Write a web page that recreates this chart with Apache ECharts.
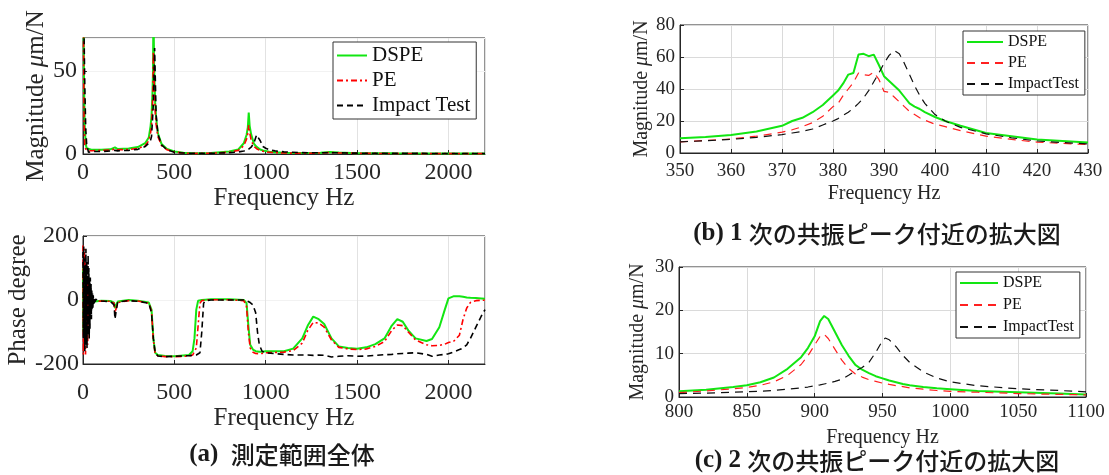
<!DOCTYPE html>
<html>
<head>
<meta charset="utf-8">
<script src="https://cdn.jsdelivr.net/npm/echarts@6/dist/echarts.min.js"></script>
<style>
  html, body { margin: 0; padding: 0; background: #fff; }
  #main { width: 1109px; height: 475px; }
</style>
</head>
<body>
<div id="main"></div>
<script>
// (a) 全体: 振幅
var magFreqA = [0, 3, 6, 10, 15, 20, 30, 50, 100, 150, 175, 180, 190, 250, 300, 340, 360, 370, 375, 380, 383, 385, 387, 389, 392, 395, 400, 410, 430, 460, 500, 550, 600, 700, 800, 850, 880, 895, 902, 907, 912, 920, 935, 950, 960, 970, 985, 1000, 1020, 1050, 1100, 1200, 1300, 1350, 1400, 1500, 1700, 2000, 2200];
var magDspeA = [90, 80, 40, 15, 6, 3.5, 2.5, 2.5, 2.6, 2.8, 4, 4.5, 3, 3.3, 4.2, 6.5, 10, 17, 23, 36, 49, 80, 75, 55, 42, 31, 22, 12.5, 6, 3, 1.5, 0.8, 0.4, 0.6, 1.5, 2.7, 6.5, 11.5, 16, 25, 17, 12, 6.3, 4.3, 3.4, 2.7, 2.1, 1.8, 1.4, 1.1, 0.8, 0.6, 0.8, 1.2, 0.9, 0.5, 0.4, 0.3, 0.3];
var magPeA = [85, 70, 20, 5, 3, 2, 2, 2, 2.2, 2.4, 3, 3.5, 2.6, 2.7, 3.4, 5, 8, 13, 17, 29, 40, 62, 55, 46, 35, 26, 18, 10.5, 5, 2.5, 1.2, 0.6, 0.3, 0.5, 1.1, 2.2, 5, 9, 12.5, 17.5, 13, 8.5, 4.6, 3.2, 2.6, 2.1, 1.7, 1.3, 1.1, 0.8, 0.6, 0.4, 0.6, 0.9, 0.7, 0.4, 0.3, 0.2, 0.2];
var magImpA = [100, 95, 70, 40, 15, 6, 1, 1.5, 1.5, 1.8, 2.2, 2.5, 1.9, 2.2, 2.8, 4.5, 6.5, 8.5, 10.5, 20, 25.5, 31, 39, 50, 64, 49, 24, 12, 5.5, 2.5, 1, 0.6, 0.4, 0.4, 0.8, 1.2, 1.8, 2.3, 2.7, 3, 3.4, 4.1, 6.5, 11.5, 12.5, 8, 4.5, 3.5, 2.6, 1.9, 1.3, 0.8, 0.7, 0.8, 0.7, 0.5, 0.4, 0.3, 0.3];

// (a) 全体: 位相 (低周波のばらつき部分)
var phNoiseFreq = [0, 2, 4, 6, 8, 10, 12, 14, 16, 18, 20, 22, 24, 26, 28, 30, 32, 34, 36, 38, 40, 42, 44, 46, 48, 50, 52, 54, 56, 58, 60, 62, 64, 66, 68];
var phNoiseDspe = [100, -100, 60, -80, 40, -50, 30, -40, 20, -30, 15, -20, 10, -15, 5, -10, 5, -8, 2, -5, 0, -5, -2, -4, -3, -5, -4, -3, -5, -4, -3, -5, -4, -5, -4];
var phNoisePe = [170, -170, 120, -150, 160, -100, 140, -170, 80, -130, 110, -90, 60, -140, 70, -50, 40, -60, 30, -40, 20, -25, 10, -15, 5, -10, 3, -6, 2, -4, 0, -3, -2, -4, -3];
var phNoiseImp = [150, -120, 170, -90, 130, -160, 100, -140, 160, -60, 120, -150, 90, -110, 140, -80, 100, -120, 60, -90, 70, -40, 50, -60, 30, -30, 20, -25, 15, -12, 8, -10, 5, -6, 2];
// (a) 全体: 位相 (70 Hz 以上)
var phFreq = [70, 100, 150, 170, 175, 180, 190, 250, 300, 360, 375, 385, 395, 410, 450, 500, 580, 600, 610, 620, 630, 640, 650, 660, 670, 700, 800, 880, 895, 905, 915, 930, 945, 955, 965, 980, 1000, 1100, 1150, 1200, 1230, 1260, 1290, 1320, 1360, 1400, 1450, 1500, 1550, 1600, 1650, 1690, 1720, 1750, 1780, 1820, 1880, 1910, 1950, 1980, 2000, 2030, 2060, 2080, 2100, 2120, 2150, 2180, 2200];
var phDspe = [-5, -2, -3, -8, -25, -30, -5, 0, -2, -8, -30, -120, -165, -172, -175, -176, -172, -160, -120, -30, -2, 0, 0, 1, 1, 2, 2, 0, -10, -80, -140, -155, -160, -162, -162, -162, -160, -160, -152, -120, -80, -52, -60, -75, -120, -145, -150, -152, -148, -138, -120, -80, -60, -68, -95, -120, -128, -122, -85, -30, 5, 12, 12, 10, 8, 7, 6, 5, 4];
var phPe = [-5, -3, -4, -10, -40, -35, -8, -2, -3, -10, -35, -125, -168, -175, -177, -177, -175, -172, -168, -150, -80, -10, -2, 0, 0, 1, 1, -2, -20, -100, -150, -163, -167, -168, -168, -167, -165, -163, -158, -135, -95, -70, -72, -85, -125, -148, -153, -155, -153, -145, -130, -95, -78, -80, -100, -125, -140, -143, -142, -138, -133, -128, -110, -60, -25, -8, -2, -1, -1];
var phImp = [-2, -3, -5, -15, -60, -40, -6, -2, -4, -10, -40, -120, -165, -175, -177, -176, -174, -173, -173, -172, -170, -165, -100, -10, -2, 0, 0, 0, -2, -5, -8, -15, -40, -100, -140, -160, -165, -170, -172, -172, -172, -173, -172, -173, -178, -176, -174, -176, -175, -173, -171, -170, -168, -167, -166, -165, -170, -176, -172, -170, -168, -162, -155, -150, -140, -120, -85, -50, -30];

// (b) 1 次ピーク付近
var freqB = [350, 355, 360, 365, 370, 372, 374, 376, 378, 380, 381, 382, 383, 384, 385, 386, 387, 388, 389, 390, 391, 392, 393, 394, 395, 396, 397, 398, 400, 402, 405, 410, 415, 420, 425, 430];
var dspeB = [9.2, 10, 11.3, 13.5, 17, 20, 22, 25.5, 30, 36, 39, 43.5, 49, 50, 61.5, 62, 60.5, 61.5, 55, 48, 45, 42, 39, 35, 31, 29, 27.5, 25.5, 22.5, 20, 17, 12.5, 10.5, 8.5, 7.5, 6.5];
var peB = [7, 7.8, 8.8, 10.5, 13, 14.5, 16.5, 19, 23, 29, 31, 36, 40, 44, 50, 49, 48.5, 50.5, 46, 38.5, 38, 35, 32, 29, 26, 24, 22, 20.5, 18, 16.5, 14, 10.5, 8.5, 6.8, 6, 5.3];
var impB = [7, 7.6, 8.5, 9.8, 11.5, 12.5, 13.5, 15, 17.5, 20, 21.5, 23.5, 25.5, 28, 31, 34.5, 39, 44.5, 50, 56, 61, 64, 62, 56, 49, 42, 36, 31, 24, 20, 16, 12, 9.5, 7.5, 6.5, 5.7];

// (c) 2 次ピーク付近
var freqC = [800, 820, 840, 850, 860, 870, 880, 890, 895, 900, 904, 907, 910, 915, 920, 925, 930, 935, 940, 945, 950, 952, 955, 960, 965, 970, 980, 990, 1000, 1020, 1050, 1080, 1100];
var dspeC = [1.3, 1.7, 2.3, 2.7, 3.4, 4.5, 6.5, 9.2, 11.3, 14, 17.5, 18.7, 18, 15, 12, 9.5, 7.4, 6.3, 5.5, 4.8, 4.3, 4.1, 3.8, 3.4, 3, 2.7, 2.3, 2, 1.8, 1.4, 1.1, 0.8, 0.6];
var peC = [1, 1.4, 1.9, 2.2, 2.7, 3.5, 5, 7.5, 9.5, 12, 14, 14.5, 13.5, 11, 8.5, 6.6, 5.3, 4.6, 4, 3.6, 3.2, 3.1, 2.9, 2.6, 2.4, 2.1, 1.8, 1.5, 1.3, 1.1, 0.8, 0.6, 0.5];
var impC = [0.8, 0.9, 1.1, 1.2, 1.35, 1.5, 1.8, 2.1, 2.3, 2.6, 2.8, 3, 3.2, 3.6, 4.1, 5, 6, 6.8, 8, 10.3, 13, 13.6, 13.2, 11.6, 9.6, 8, 5.8, 4.4, 3.5, 2.6, 1.9, 1.5, 1.2];

function pairs(xs, ys) {
    return xs.map(function (x, i) { return [x, ys[i]]; });
}

var serif = 'Liberation Serif';
var cjk = 'Noto Sans CJK JP';
var ink = '#262626';
var green = '#12e612';

function plain(v) { return String(v); }

function xAx(grid, min, max, step, fs, margin, gap, splitColor) {
    return {
        type: 'value', gridIndex: grid, min: min, max: max, interval: step,
        name: 'Frequency Hz', nameLocation: 'middle', nameGap: gap,
        nameTextStyle: { fontFamily: serif, fontSize: fs + 1, color: ink },
        axisLine: { show: true, onZero: false, lineStyle: { color: ink } },
        axisTick: { inside: true, length: 4, lineStyle: { color: ink } },
        axisLabel: { fontFamily: serif, fontSize: fs, color: ink, margin: margin,
            formatter: plain, showMaxLabel: max % step === 0 },
        splitLine: { show: true, lineStyle: { color: splitColor } }
    };
}
function yAx(grid, name, min, max, step, fs, margin, gap, splitColor) {
    var ts = { fontFamily: serif, fontSize: fs + 1, color: ink };
    return {
        type: 'value', gridIndex: grid, min: min, max: max, interval: step,
        name: name, nameLocation: 'middle', nameGap: gap, nameRotate: 90,
        nameTextStyle: { fontFamily: serif, fontSize: fs + 1, color: ink,
            rich: { n: ts, i: { fontFamily: serif, fontStyle: 'italic', fontSize: fs + 1, color: ink } } },
        axisLine: { show: true, onZero: false, lineStyle: { color: ink } },
        axisTick: { inside: true, length: 4, lineStyle: { color: ink } },
        axisLabel: { fontFamily: serif, fontSize: fs, color: ink, margin: margin,
            formatter: plain, showMaxLabel: max % step === 0 },
        splitLine: { show: true, lineStyle: { color: splitColor } }
    };
}
function line(name, idx, data, color, width, type) {
    return {
        name: name, type: 'line', xAxisIndex: idx, yAxisIndex: idx,
        data: data, symbol: 'none', clip: true, silent: true,
        lineStyle: { color: color, width: width, type: type },
        itemStyle: { color: color }
    };
}
function legendBox(names, left, top, fs, gap, w) {
    return {
        data: names, orient: 'vertical', left: left, top: top,
        formatter: function (n) { return n.split('-')[0]; },
        backgroundColor: '#fff', borderColor: '#333', borderWidth: 1, borderRadius: 0,
        padding: [3, 6, 3, 3], itemWidth: w, itemHeight: 10, itemGap: gap,
        itemStyle: { opacity: 0 },
        textStyle: { fontFamily: serif, fontSize: fs, color: '#111' }
    };
}
function caption(head, body, x, y) {
    return {
        text: '{s|' + head + '}{j|' + body + '}', left: x, top: y, textAlign: 'center',
        textStyle: { rich: {
            s: { fontFamily: serif, fontSize: 25, fontWeight: 'bold', color: '#1a1a1a' },
            j: { fontFamily: cjk, fontSize: 24, fontWeight: 500, color: '#1a1a1a' }
        } }
    };
}

var chart = echarts.init(document.getElementById('main'));
var dashDot = [6, 3, 2, 3];
var option = {
    animation: false,
    backgroundColor: '#fff',
    title: [
        caption('(a)  ', '測定範囲全体', 277, 437),
        caption('(b) 1 ', '次の共振ピーク付近の拡大図', 872, 216),
        caption('(c) 2 ', '次の共振ピーク付近の拡大図', 872, 443)
    ],
    grid: [
        { left: 83, top: 38, width: 402, height: 116, show: true, borderColor: ink, borderWidth: 1 },
        { left: 83, top: 236, width: 402, height: 128, show: true, borderColor: ink, borderWidth: 1 },
        { left: 680, top: 25, width: 408, height: 128, show: true, borderColor: ink, borderWidth: 1 },
        { left: 679, top: 267, width: 407, height: 130, show: true, borderColor: ink, borderWidth: 1 }
    ],
    xAxis: [
        xAx(0, 0, 2200, 500, 24, 7, 30, '#e2e2e2'),
        xAx(1, 0, 2200, 500, 24, 17, 38, '#e2e2e2'),
        xAx(2, 350, 430, 10, 19, 9, 31, '#dadada'),
        xAx(3, 800, 1100, 50, 19, 6, 31, '#dadada')
    ],
    yAxis: [
        yAx(0, '{n|Magnitude }{i|μ}{n|m/N}', 0, 70, 50, 24, 6, 29, '#f2f2f2'),
        yAx(1, 'Phase degree', -200, 200, 200, 24, 4, 52, '#f2f2f2'),
        yAx(2, '{n|Magnitude }{i|μ}{n|m/N}', 0, 80, 20, 19, 5, 27, '#dadada'),
        yAx(3, '{n|Magnitude }{i|μ}{n|m/N}', 0, 30, 10, 19, 5, 31, '#dadada')
    ],
    legend: [
        legendBox(['DSPE-a', 'PE-a', 'Impact Test-a'], 333, 42, 21, 4, 30),
        legendBox(['DSPE-b', 'PE-b', 'ImpactTest-b'], 963, 31, 16, 5, 36),
        legendBox(['DSPE-c', 'PE-c', 'ImpactTest-c'], 956, 272, 16, 6, 38)
    ],
    series: [
        line('DSPE-a', 0, pairs(magFreqA, magDspeA), green, 2, 'solid'),
        line('PE-a', 0, pairs(magFreqA, magPeA), '#ff0000', 1.6, dashDot),
        line('Impact Test-a', 0, pairs(magFreqA, magImpA), '#000', 1.6, [6, 4]),

        line('DSPE-a', 1, pairs(phNoiseFreq, phNoiseDspe).concat(pairs(phFreq, phDspe)), green, 2, 'solid'),
        line('PE-a', 1, pairs(phNoiseFreq, phNoisePe).concat(pairs(phFreq, phPe)), '#ff0000', 1.6, dashDot),
        line('Impact Test-a', 1, pairs(phNoiseFreq, phNoiseImp).concat(pairs(phFreq, phImp)), '#000', 1.6, [6, 4]),

        line('DSPE-b', 2, pairs(freqB, dspeB), green, 2, 'solid'),
        line('PE-b', 2, pairs(freqB, peB), '#ff2020', 1.2, [8, 6]),
        line('ImpactTest-b', 2, pairs(freqB, impB), '#111', 1.2, [8, 6]),

        line('DSPE-c', 3, pairs(freqC, dspeC), green, 2, 'solid'),
        line('PE-c', 3, pairs(freqC, peC), '#ff2020', 1.2, [8, 6]),
        line('ImpactTest-c', 3, pairs(freqC, impC), '#111', 1.2, [8, 6])
    ]
};
chart.setOption(option);
</script>
</body>
</html>
